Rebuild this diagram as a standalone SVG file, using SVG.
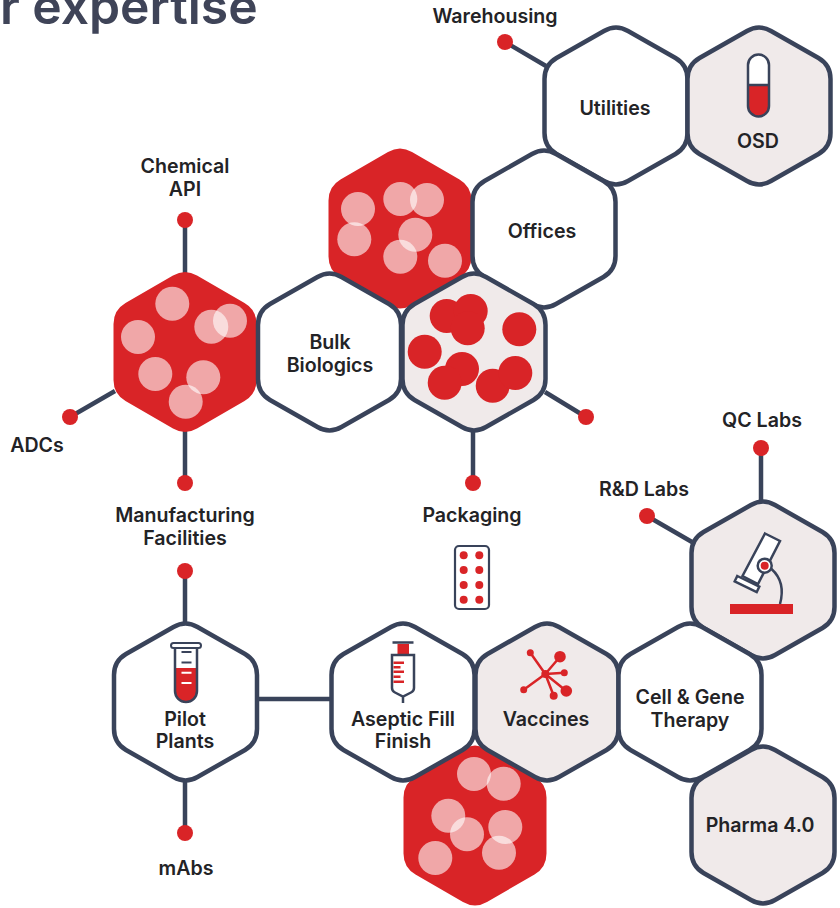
<svg xmlns="http://www.w3.org/2000/svg" xmlns:xlink="http://www.w3.org/1999/xlink" width="840" height="908" viewBox="0 0 840 908">
<style>
text{font-family:"Inter","Liberation Sans",sans-serif;font-weight:600;font-size:19.6px;fill:#232326;text-anchor:middle}
.title{font-size:49.800px;fill:#3f4458;text-anchor:start}
.w{fill:#fff;stroke:#39435a;stroke-width:4.5}
.l{fill:#f0eaea;stroke:#39435a;stroke-width:4.5}
.r{fill:#d92427}
.c{stroke:#39435a;stroke-width:4.5;fill:none}
.d{fill:#d92427}
.o{fill:#fff;fill-opacity:.6}
.i{fill:none;stroke:#39435a;stroke-width:2.5}
.rl{stroke:#d92427;stroke-width:2.5;fill:none}
</style>
<defs>
<path id="hex" d="M12,-75L59.500,-48Q71.500,-41 71.500,-27L71.500,27Q71.500,41 59.500,48L12,75Q0,82 -12,75L-59.500,48Q-71.500,41 -71.500,27L-71.500,-27Q-71.500,-41 -59.500,-48L-12,-75Q0,-82 12,-75Z"/>
<path id="hexr" d="M12,-76.500L59.500,-49Q71.500,-42 71.500,-28L71.500,28Q71.500,42 59.500,49L12,76.500Q0,83.500 -12,76.500L-59.500,49Q-71.500,42 -71.500,28L-71.500,-28Q-71.500,-42 -59.500,-49L-12,-76.500Q0,-83.500 12,-76.500Z"/>
</defs>
<rect width="840" height="908" fill="#fff"/>
<text class="title" x="0" y="24">r expertise</text>
<g id="connectors">
<path class="c" d="M505,42L546,66M185,220V273M70,417L115,391M185,483V431M185,571V623M185,833V781M258,699H332M473,483V431M586,417L545,392M647,516L692,542M761,448V501"/>
<circle class="d" cx="505" cy="42" r="8"/><circle class="d" cx="185" cy="220" r="8"/><circle class="d" cx="70" cy="417" r="8"/><circle class="d" cx="185" cy="483" r="8"/><circle class="d" cx="185" cy="571" r="8"/><circle class="d" cx="185" cy="833" r="8"/><circle class="d" cx="473" cy="483" r="8"/><circle class="d" cx="586" cy="417" r="8"/><circle class="d" cx="647" cy="516" r="8"/><circle class="d" cx="761" cy="448" r="8"/>
</g>
<g id="red-top"><use xlink:href="#hexr" href="#hexr" class="r" x="400" y="228.500"/>
<circle class="o" cx="358" cy="209" r="17"/><circle class="o" cx="354.3" cy="239.3" r="17"/><circle class="o" cx="400.3" cy="199" r="17"/><circle class="o" cx="427" cy="200" r="17"/><circle class="o" cx="415.3" cy="234.7" r="17"/><circle class="o" cx="400.3" cy="256.7" r="17"/><circle class="o" cx="445" cy="260.7" r="17"/></g>
<g id="red-left"><use xlink:href="#hexr" href="#hexr" class="r" x="185" y="352"/>
<circle class="o" cx="172.3" cy="303.7" r="17"/><circle class="o" cx="138" cy="337" r="17"/><circle class="o" cx="211.3" cy="326.7" r="17"/><circle class="o" cx="230" cy="320.7" r="17"/><circle class="o" cx="155.3" cy="374" r="17"/><circle class="o" cx="203.3" cy="377.3" r="17"/><circle class="o" cx="185.7" cy="401.7" r="17"/></g>
<g id="red-bottom"><use xlink:href="#hexr" href="#hexr" class="r" x="475" y="825.5"/>
<circle class="o" cx="474" cy="774" r="17"/><circle class="o" cx="503.7" cy="783.7" r="17"/><circle class="o" cx="448.3" cy="815.7" r="17"/><circle class="o" cx="467" cy="834.3" r="17"/><circle class="o" cx="505.3" cy="827" r="17"/><circle class="o" cx="499" cy="852.7" r="17"/><circle class="o" cx="435.3" cy="858" r="17"/></g>
<g id="utilities"><use xlink:href="#hex" href="#hex" class="w" x="616" y="106"/><text x="615" y="115">Utilities</text></g>
<g id="osd"><use xlink:href="#hex" href="#hex" class="l" x="759" y="106"/>
<path class="r" d="M748,85H769V106A10.500,10.500 0 0 1 748,106Z"/><path fill="#fff" d="M748,85V65A10.500,10.500 0 0 1 769,65V85Z"/><path class="i" d="M748,85V65A10.500,10.500 0 0 1 769,65V106A10.500,10.500 0 0 1 748,106ZM748,85H769"/>
<text x="758" y="148">OSD</text></g>
<g id="offices"><use xlink:href="#hex" href="#hex" class="w" x="544" y="229"/><text x="542" y="238">Offices</text></g>
<g id="bulk-biologics"><use xlink:href="#hex" href="#hex" class="w" x="329.500" y="352"/><text x="330" y="349">Bulk</text><text x="330" y="372">Biologics</text></g>
<g id="light-hex"><use xlink:href="#hex" href="#hex" class="l" x="474" y="352"/>
<g class="d"><circle cx="446.700" cy="316" r="17"/><circle cx="470.700" cy="311" r="17"/><circle cx="467.700" cy="328.300" r="17"/><circle cx="519.300" cy="329.300" r="17"/><circle cx="424.700" cy="351.700" r="17"/><circle cx="462" cy="369" r="17"/><circle cx="444.700" cy="382.700" r="17"/><circle cx="492.700" cy="385.700" r="17"/><circle cx="515.300" cy="373" r="17"/></g></g>
<g id="pilot-plants"><use xlink:href="#hex" href="#hex" class="w" x="185.500" y="702"/>
<path fill="#fff" d="M175,648H197V691A11,11 0 0 1 175,691Z"/><path class="r" d="M175,668H197V691A11,11 0 0 1 175,691Z"/>
<path class="i" d="M175,648V691A11,11 0 0 0 197,691V648"/><rect x="171" y="643" width="30" height="5" rx="2.500" fill="#fff" stroke="#39435a" stroke-width="2"/>
<path d="M181.500,652H191.500M181.500,662.500H191.500" stroke="#39435a" stroke-width="2"/><path d="M181.500,672.700H191.500M181.500,683H191.500" stroke="#fff" stroke-width="2"/>
<text x="185" y="726">Pilot</text><text x="185" y="748">Plants</text></g>
<g id="aseptic-fill-finish"><use xlink:href="#hex" href="#hex" class="w" x="403" y="702"/>
<rect class="r" x="397.500" y="644" width="11.500" height="10.500"/><path d="M392.500,642.500H413.500" stroke="#39435a" stroke-width="2.500"/>
<path class="i" d="M392,655H414V688Q414,691 411,692.500L403,696.500L395,692.500Q392,691 392,688ZM403,696.500V703"/>
<path class="rl" d="M393.500,662.700H404M393.500,667.200H400.500M393.500,671.800H404M393.500,676.700H400.500M393.500,681.700H404" stroke-width="2"/>
<text x="403" y="726">Aseptic Fill</text><text x="403" y="748">Finish</text></g>
<g id="vaccines"><use xlink:href="#hex" href="#hex" class="l" x="547" y="702"/>
<path class="rl" stroke-width="2" d="M545.300,674L530.300,652.700M545.300,674L560,656.700M545.300,674L564.300,672.700M545.300,674L566.300,691M545.300,674L553.700,695.700M545.300,674L523.700,689.700"/>
<g class="d"><circle cx="545.300" cy="674" r="4"/><circle cx="530.300" cy="652.700" r="3.500"/><circle cx="560" cy="656.700" r="5.800"/><circle cx="564.300" cy="672.700" r="3.500"/><circle cx="566.300" cy="691" r="5.800"/><circle cx="553.700" cy="695.700" r="4"/><circle cx="523.700" cy="689.700" r="3.500"/></g>
<text x="546" y="726">Vaccines</text></g>
<g id="lab-hex"><use xlink:href="#hex" href="#hex" class="l" x="763" y="580"/>
<path fill="none" stroke="#39435a" stroke-width="2.500" d="M771.500,569Q786,582 780,604"/>
<path fill="#fff" stroke="#39435a" stroke-width="2.500" stroke-linejoin="miter" d="M765,533.500L780,541L758,584L742.500,576Z"/>
<path fill="#fff" stroke="#39435a" stroke-width="2.500" d="M737.300,576L759.300,586.700L756.700,592L734.700,581.300Z"/>
<circle cx="764.700" cy="565.700" r="7" fill="#fff" stroke="#39435a" stroke-width="2.500"/><circle class="d" cx="764.700" cy="565.700" r="4"/>
<rect class="r" x="730" y="604" width="63" height="10"/></g>
<g id="cell-gene-therapy"><use xlink:href="#hex" href="#hex" class="w" x="690" y="702"/><text x="690" y="704">Cell &amp; Gene</text><text x="690" y="727">Therapy</text></g>
<g id="pharma"><use xlink:href="#hex" href="#hex" class="l" x="763" y="825"/><text x="760" y="832">Pharma 4.0</text></g>
<g id="packaging-icon"><rect x="455" y="546" width="34" height="63" rx="4" fill="#fff" stroke="#39435a" stroke-width="2.200"/>
<g class="d"><circle cx="463.700" cy="555.300" r="4"/><circle cx="479.300" cy="555.300" r="4"/><circle cx="463.700" cy="570" r="4"/><circle cx="479.300" cy="570" r="4"/><circle cx="463.700" cy="585" r="4"/><circle cx="479.300" cy="585" r="4"/><circle cx="463.700" cy="599.700" r="4"/><circle cx="479.300" cy="599.700" r="4"/></g></g>
<g id="labels">
<text x="495" y="23">Warehousing</text>
<text x="185" y="173">Chemical</text><text x="185" y="196">API</text>
<text x="37" y="452">ADCs</text>
<text x="185" y="522">Manufacturing</text><text x="185" y="545">Facilities</text>
<text x="472" y="522">Packaging</text>
<text x="644" y="496">R&amp;D Labs</text>
<text x="762" y="427">QC Labs</text>
<text x="186" y="875">mAbs</text>
</g>
</svg>
